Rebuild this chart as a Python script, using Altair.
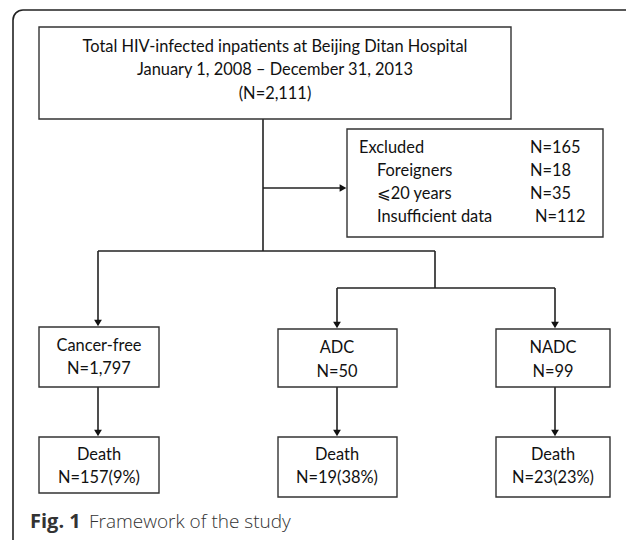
import altair as alt
import pandas as pd

# ---- layout data (reference pixel coordinates) ----
box_x1 = [39, 347, 39, 278, 496, 39, 278, 496]
box_x2 = [511, 603, 159, 397, 610, 159, 397, 610]
box_y1 = [27, 129, 327, 329, 329, 437, 437, 437]
box_y2 = [119, 237, 387, 387, 387, 493, 497, 497]

line_x1 = [263, 263, 98, 98, 435, 337, 337, 555, 98, 337, 555]
line_x2 = [263, 340, 435, 98, 435, 555, 337, 555, 98, 337, 555]
line_y1 = [119, 188, 251, 251, 251, 288, 288, 288, 387, 387, 387]
line_y2 = [251, 188, 251, 321, 288, 288, 323, 323, 431, 431, 431]

arrow_down_x = [98, 337, 555, 98, 337, 555]
arrow_down_y = [323, 325, 325, 433, 433, 433]
arrow_right_x = [343]
arrow_right_y = [188]

center_labels = [
    "Total HIV-infected inpatients at Beijing Ditan Hospital",
    "January 1, 2008 \u2013 December 31, 2013",
    "(N=2,111)",
    "Cancer-free", "N=1,797",
    "ADC", "N=50",
    "NADC", "N=99",
    "Death", "N=157(9%)",
    "Death", "N=19(38%)",
    "Death", "N=23(23%)",
]
center_x = [275, 275, 275, 99, 99, 337, 337, 553, 553, 99, 99, 337, 337, 553, 553]
center_y = [47, 70, 94, 346, 369, 348, 372, 348, 372, 455, 478, 455, 478, 455, 478]

left_labels = ["Excluded", "Foreigners", "\u2a7d20 years", "Insufficient data",
               "N=165", "N=18", "N=35", "N=112"]
left_x = [359, 377, 377, 377, 530, 530, 530, 535]
left_y = [148, 171, 194, 217, 148, 171, 194, 217]

caption_bold = ["Fig. 1"]
caption_rest = ["Framework of the study"]

# ---- build tables ----
boxes = pd.DataFrame({"x": box_x1, "x2": box_x2, "y": box_y1, "y2": box_y2})
lines = pd.DataFrame({"x": line_x1, "x2": line_x2, "y": line_y1, "y2": line_y2})
adown = pd.DataFrame({"x": arrow_down_x, "y": arrow_down_y})
aright = pd.DataFrame({"x": arrow_right_x, "y": arrow_right_y})
ctext = pd.DataFrame({"x": center_x, "y": center_y, "t": center_labels})
ltext = pd.DataFrame({"x": left_x, "y": left_y, "t": left_labels})
cap1 = pd.DataFrame({"x": [30], "y": [522], "t": caption_bold})
cap2 = pd.DataFrame({"x": [89], "y": [522], "t": caption_rest})
frame = pd.DataFrame({"x": [13], "x2": [700], "y": [10], "y2": [700]})

xs = alt.Scale(domain=[8, 626], nice=False, zero=False)
ys = alt.Scale(domain=[8, 540], nice=False, zero=False, reverse=True)

def X(f="x"):
    return alt.X(f + ":Q", scale=xs, axis=None)

def Y(f="y"):
    return alt.Y(f + ":Q", scale=ys, axis=None)

FONT = "Lato, DejaVu Sans"

frame_l = alt.Chart(frame).mark_rect(
    fill="white", fillOpacity=0, stroke="#222", strokeWidth=1.6, cornerRadius=10
).encode(x=X(), x2="x2:Q", y=Y(), y2="y2:Q")

box_l = alt.Chart(boxes).mark_rect(
    fill="white", stroke="#333", strokeWidth=1.4
).encode(x=X(), x2="x2:Q", y=Y(), y2="y2:Q")

line_l = alt.Chart(lines).mark_rule(color="#222", strokeWidth=1.6).encode(
    x=X(), x2="x2:Q", y=Y(), y2="y2:Q"
)

adown_l = alt.Chart(adown).mark_point(
    shape="triangle-down", filled=True, color="#111", size=60, opacity=1
).encode(x=X(), y=Y())

aright_l = alt.Chart(aright).mark_point(
    shape="triangle-right", filled=True, color="#111", size=60, opacity=1
).encode(x=X(), y=Y())

ctext_l = alt.Chart(ctext).mark_text(
    font=FONT, fontSize=16.4, color="#111", align="center", baseline="middle"
).encode(x=X(), y=Y(), text="t:N")

ltext_l = alt.Chart(ltext).mark_text(
    font=FONT, fontSize=16.4, color="#111", align="left", baseline="middle"
).encode(x=X(), y=Y(), text="t:N")

cap1_l = alt.Chart(cap1).mark_text(
    font="Open Sans", fontSize=20, fontWeight="bold", color="#333",
    align="left", baseline="middle"
).encode(x=X(), y=Y(), text="t:N")

cap2_l = alt.Chart(cap2).mark_text(
    font="Open Sans", fontSize=19, fontWeight=300, color="#333",
    align="left", baseline="middle"
).encode(x=X(), y=Y(), text="t:N")

chart = alt.layer(
    frame_l, line_l, box_l, adown_l, aright_l, ctext_l, ltext_l, cap1_l, cap2_l
).properties(
    width=618, height=532,
    autosize=alt.AutoSizeParams(type="none"),
    padding=0,
).configure_view(stroke=None)

chart.save("out.html", embed_options={"renderer": "svg", "actions": False})
